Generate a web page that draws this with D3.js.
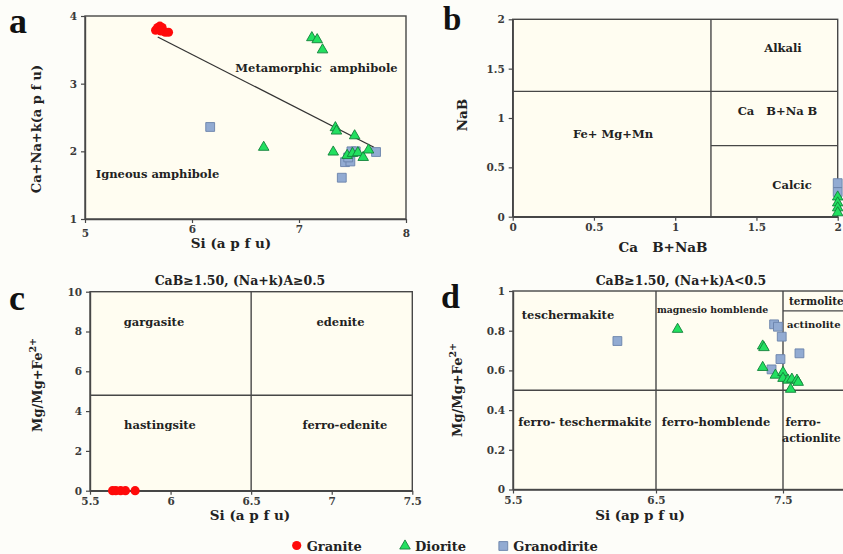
<!DOCTYPE html>
<html><head><meta charset="utf-8">
<script src="https://cdn.jsdelivr.net/npm/d3@7"></script>
<style>
html,body{margin:0;padding:0;background:#fdfdf9;}
svg{display:block;}
svg text{white-space:pre;}
</style></head><body>
<svg id="chart" width="843" height="554"></svg>
<script>
// ---------------- data ----------------
// Panel a : Si (apfu) vs Ca+Na+K (apfu)
const aGranite = [[5.66,3.79],[5.68,3.83],[5.70,3.85],[5.72,3.83],[5.71,3.78],[5.75,3.76],[5.78,3.76]];
const aDiorite = [[7.12,3.68],[7.17,3.65],[7.22,3.50],[7.34,2.35],[7.35,2.30],[7.52,2.23],[6.67,2.06],
                  [7.32,1.99],[7.45,1.94],[7.50,1.97],[7.55,1.98],[7.60,1.91],[7.65,2.02]];
const aGranodiorite = [[6.17,2.36],[7.40,1.61],[7.43,1.84],[7.48,1.85],[7.49,2.00],[7.53,2.00],[7.72,1.99],[7.46,1.91]];
const aBoundary = [[5.68,3.69],[7.70,2.06]];
const aXTicks = [5,6,7,8];
const aYTicks = [1,2,3,4];

// Panel b : CaB+NaB vs NaB
const bDiorite = [[2,0.20],[2,0.14],[2,0.09],[2,0.04]];
const bGranodiorite = [[2,0.34],[2,0.25]];
const bDividers = [[1.22,0,1.22,2],[0,1.27,2,1.27],[1.22,0.72,2,0.72]];
const bXTicks = [0,0.5,1,1.5,2];
const bYTicks = [0,0.5,1,1.5,2];

// Panel c : Si vs Mg/(Mg+Fe2+), CaB>=1.50,(Na+K)A>=0.5
const cGranite = [[5.64,0],[5.66,0],[5.69,0],[5.72,0],[5.78,0]];
const cDividers = [[6.5,0,6.5,10],[5.5,4.8,7.5,4.8]];
const cXTicks = [5.5,6,6.5,7,7.5];
const cYTicks = [0,2,4,6,8,10];

// Panel d : Si vs Mg/(Mg+Fe2+), CaB>=1.50,(Na+K)A<0.5
const dDiorite = [[6.67,0.807],[7.34,0.723],[7.35,0.715],[7.34,0.615],[7.44,0.576],[7.50,0.590],
                  [7.50,0.560],[7.54,0.551],[7.57,0.556],[7.61,0.551],[7.62,0.540],[7.56,0.505]];
const dGranodiorite = [[6.23,0.748],[7.43,0.832],[7.46,0.820],[7.49,0.770],[7.48,0.657],[7.63,0.686],[7.41,0.605]];
const dDividers = [[6.5,0,6.5,1],[7.5,0,7.5,1],[5.5,0.5,8,0.5],[7.5,0.9,8,0.9]];
const dXTicks = [5.5,6.5,7.5];
const dYTicks = [0,0.2,0.4,0.6,0.8,1];

const legendItems = ["Granite","Diorite","Granodirite"];

// ---------------- drawing ----------------
const FONT = '"DejaVu Serif", serif';
const LINE = '#474747';
const svg = d3.select('#chart');

function styleAxis(sel){
  sel.attr('font-family', FONT).attr('font-size', 10.5).attr('font-weight','bold').attr('color','#3a3a3a');
  sel.select('.domain').attr('stroke', LINE).attr('stroke-width', 1.4);
  sel.selectAll('.tick line').attr('stroke', LINE).attr('stroke-width', 1.2);
}

function makePanel(o){
  const x = d3.scaleLinear().domain(o.xDomain).range(o.xRange);
  const y = d3.scaleLinear().domain(o.yDomain).range(o.yRange);
  const g = svg.append('g');
  const xl = o.xRange[0], xr = o.xRange[o.xRange.length-1];
  const yb = o.yRange[0], yt = o.yRange[1];
  g.append('rect').attr('x', xl).attr('y', yt).attr('width', xr - xl).attr('height', yb - yt)
    .attr('fill', '#fffdf1').attr('stroke', LINE).attr('stroke-width', 1.4);
  const xa = g.append('g').attr('transform', `translate(0,${yb})`)
    .call(d3.axisBottom(x).tickValues(o.xTicks).tickSize(4).tickSizeOuter(0).tickPadding(3).tickFormat(d3.format('')))
    .call(styleAxis);
  g.append('g').attr('transform', `translate(${xl},0)`)
    .call(d3.axisLeft(y).tickValues(o.yTicks).tickSize(4).tickSizeOuter(0).tickPadding(4).tickFormat(d3.format('')))
    .call(styleAxis);
  return {g, x, y, xa};
}

function dividers(p, list){
  p.g.selectAll(null).data(list).join('line')
    .attr('x1', d => p.x(d[0])).attr('y1', d => p.y(d[1]))
    .attr('x2', d => p.x(d[2])).attr('y2', d => p.y(d[3]))
    .attr('stroke', LINE).attr('stroke-width', 1.4);
}

const triSym = d3.symbol().type(d3.symbolTriangle).size(48);
const sqSym = d3.symbol().type(d3.symbolSquare).size(78);

function circles(p, data){
  p.g.selectAll(null).data(data).join('circle')
    .attr('cx', d => p.x(d[0])).attr('cy', d => p.y(d[1])).attr('r', 4.6)
    .attr('fill', '#ff0a0a');
}
function triangles(p, data){
  p.g.selectAll(null).data(data).join('path')
    .attr('d', triSym).attr('transform', d => `translate(${p.x(d[0])},${p.y(d[1])})`)
    .attr('fill', '#22e060').attr('stroke', '#12803a').attr('stroke-width', 0.9);
}
function squares(p, data){
  p.g.selectAll(null).data(data).join('path')
    .attr('d', sqSym).attr('transform', d => `translate(${p.x(d[0])},${p.y(d[1])})`)
    .attr('fill', '#92abd2').attr('stroke', '#6a82aa').attr('stroke-width', 0.9);
}

function label(txt, x, y, size, anchor, rot){
  const t = svg.append('text').attr('x', x).attr('y', y)
    .attr('font-family', FONT).attr('font-weight', 'bold').attr('font-size', size)
    .attr('fill', '#222').attr('text-anchor', anchor || 'middle').attr('dominant-baseline', 'middle')
    .attr('xml:space', 'preserve')
    .text(txt);
  if (rot) t.attr('transform', `rotate(-90,${x},${y})`);
  return t;
}
function panelLetter(txt, x, y, size){
  svg.append('text').attr('x', x).attr('y', y).attr('font-family', '"Liberation Serif", serif')
    .attr('font-weight', 'bold').attr('font-size', size).attr('fill', '#111').text(txt);
}

// ---- Panel a ----
const pa = makePanel({xDomain:[5,8], xRange:[85,406], yDomain:[1,4], yRange:[219,16], xTicks:aXTicks, yTicks:aYTicks});
// the outer tick labels (5 and 8) sit a little lower than 6 and 7 in the reference
pa.xa.selectAll('.tick text').filter(d => d === 5 || d === 8).attr('y', 10.5);
pa.g.append('line')
  .attr('x1', pa.x(aBoundary[0][0])).attr('y1', pa.y(aBoundary[0][1]))
  .attr('x2', pa.x(aBoundary[1][0])).attr('y2', pa.y(aBoundary[1][1]))
  .attr('stroke', '#333').attr('stroke-width', 1.3);
squares(pa, aGranodiorite);
triangles(pa, aDiorite);
circles(pa, aGranite);
label('Metamorphic  amphibole', 316.5, 69, 11.5);
label('Igneous amphibole', 157.5, 175, 11.5);
label('Si (a p f u)', 231, 244, 13.5);
label('Ca+Na+k(a p f u)', 37.5, 129, 13, 'middle', true);
panelLetter('a', 9, 33, 36);

// ---- Panel b ----
const pb = makePanel({xDomain:[0,2], xRange:[512.7,837.7], yDomain:[0,2], yRange:[216.7,19.3], xTicks:bXTicks, yTicks:bYTicks});
dividers(pb, bDividers);
squares(pb, bGranodiorite);
triangles(pb, bDiorite);
label('Alkali', 783, 49.3, 11.5);
label('Ca   B+Na B', 777.5, 112, 11.5);
label('Fe+ Mg+Mn', 613, 135, 11.5);
label('Calcic', 792, 186, 11.5);
label('Ca   B+NaB', 663, 248, 13.5);
label('NaB', 463, 115, 13.5, 'middle', true);
panelLetter('b', 443, 30, 33);

// ---- Panel c ----
const pc = makePanel({xDomain:[5.5,7.5], xRange:[90,412.3], yDomain:[0,10], yRange:[490.7,291.7], xTicks:cXTicks, yTicks:cYTicks});
dividers(pc, cDividers);
circles(pc, cGranite);
label('CaB≥1.50, (Na+k)A≥0.5', 240, 281, 12.5);
label('gargasite', 154, 323.3, 11.5);
label('edenite', 340.5, 323.3, 11.5);
label('hastingsite', 160, 425.7, 11.5);
label('ferro-edenite', 345, 425.7, 11.5);
label('Si (a p f u)', 250, 516, 13.5);
const cy = label('', 38, 385, 13, 'middle', true);
cy.append('tspan').text('Mg/Mg+Fe');
cy.append('tspan').attr('dy', -5).attr('font-size', 9.5).text('2+');
panelLetter('c', 9, 310, 36);

// ---- Panel d ----
const pd = makePanel({xDomain:[5.5,6.5,7.5,8], xRange:[513,656,783,846.3], yDomain:[0,1], yRange:[489.5,291], xTicks:dXTicks, yTicks:dYTicks});
dividers(pd, dDividers);
squares(pd, dGranodiorite);
triangles(pd, dDiorite);
label('CaB≥1.50, (Na+k)A<0.5', 681, 281, 12.5);
label('teschermakite', 568, 316, 11.5);
label('magnesio homblende', 712.5, 310, 9.3);
label('termolite', 789, 301.5, 10.5, 'start');
label('actinolite', 787, 325, 10, 'start');
label('ferro- teschermakite', 585, 423, 11.5);
label('ferro-homblende', 716, 423, 11.5);
label('ferro-', 785.5, 423, 11, 'start');
label('actionlite', 782, 439, 11, 'start');
label('Si (ap p f u)', 640, 516, 13.5);
const dy = label('', 458, 390, 13, 'middle', true);
dy.append('tspan').text('Mg/Mg+Fe');
dy.append('tspan').attr('dy', -5).attr('font-size', 9.5).text('2+');
panelLetter('d', 441, 308, 34);

// ---- Legend ----
const legX = [296.7, 405, 503.3];
const lg = svg.append('g');
lg.append('circle').attr('cx', legX[0]).attr('cy', 545.5).attr('r', 4.6).attr('fill', '#ff0a0a');
lg.append('path').attr('d', triSym).attr('transform', `translate(${legX[1]},546)`)
  .attr('fill', '#22e060').attr('stroke', '#12803a').attr('stroke-width', 0.9);
lg.append('path').attr('d', sqSym).attr('transform', `translate(${legX[2]},546)`)
  .attr('fill', '#92abd2').attr('stroke', '#6a82aa').attr('stroke-width', 0.9);
legendItems.forEach((t, i) => label(t, legX[i] + 10, 547, 13, 'start'));
</script>
</body></html>
